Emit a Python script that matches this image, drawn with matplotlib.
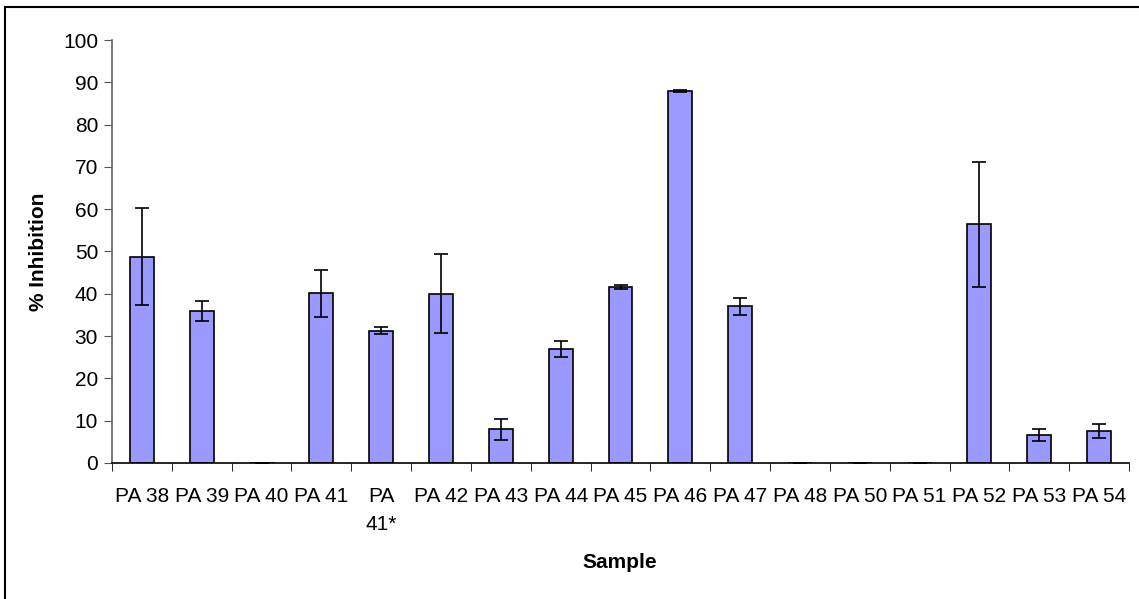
import matplotlib
matplotlib.use("Agg")
import matplotlib.pyplot as plt
import numpy as np
from matplotlib.patches import Rectangle

categories = ["PA 38", "PA 39", "PA 40", "PA 41", "PA\n41*", "PA 42", "PA 43", "PA 44",
              "PA 45", "PA 46", "PA 47", "PA 48", "PA 50", "PA 51", "PA 52", "PA 53", "PA 54"]
inhibition = [48.8, 35.9, 0, 40.1, 31.3, 40.0, 8.0, 26.9, 41.6, 87.9, 37.0, 0, 0, 0, 56.4, 6.6, 7.6]
errors = [11.4, 2.3, 0, 5.6, 0.8, 9.3, 2.5, 1.9, 0.5, 0.3, 1.9, 0, 0, 0, 14.8, 1.4, 1.7]

plt.rcParams['font.family'] = ['Liberation Sans', 'DejaVu Sans']

W, H = 1139, 599
fs = 15
fig = plt.figure(figsize=(W / 100, H / 100), dpi=100)
ax = fig.add_axes([112 / W, 1 - 463 / H, (1129 - 112) / W, (463 - 40) / H])

x = np.arange(len(categories))
ax.bar(x, inhibition, width=0.4, color="#9999FF", edgecolor="black", linewidth=1.2, zorder=2)
ax.errorbar(x, inhibition, yerr=errors, fmt="none", ecolor="black", elinewidth=1.2,
            capsize=5, capthick=1.2, zorder=3)

ax.set_xlim(-0.5, len(categories) - 0.5)
ax.set_ylim(0, 100)
ax.set_yticks(np.arange(0, 101, 10))
ax.set_xticks(x)
ax.set_xticklabels(categories, fontsize=fs, linespacing=1.65, va="top")
ax.set_xticks(np.arange(-0.5, len(categories), 1), minor=True)
ax.tick_params(axis="x", which="major", length=0, pad=17)
ax.tick_params(axis="x", which="minor", length=6, direction="out", color="black")
ax.tick_params(axis="y", length=6, direction="out", labelsize=fs, color="#555555", pad=4)

for s in ["top", "right"]:
    ax.spines[s].set_visible(False)
ax.spines["left"].set_color("#666666")
ax.spines["bottom"].set_color("black")
ax.spines["left"].set_linewidth(1.2)
ax.spines["bottom"].set_linewidth(1.2)

fig.text(38 / W, 1 - 252 / H, "% Inhibition", rotation=90, ha="center", va="center",
         fontsize=fs, fontweight="bold")
fig.text(620 / W, 1 - 563 / H, "Sample", ha="center", va="center",
         fontsize=fs, fontweight="bold")

fig.patches.append(Rectangle((4.5 / W, -0.1), 1.2, 1 - 7.5 / H + 0.1, transform=fig.transFigure,
                             fill=False, edgecolor="black", linewidth=1.5))

fig.savefig("out.png", dpi=100, facecolor="white")
